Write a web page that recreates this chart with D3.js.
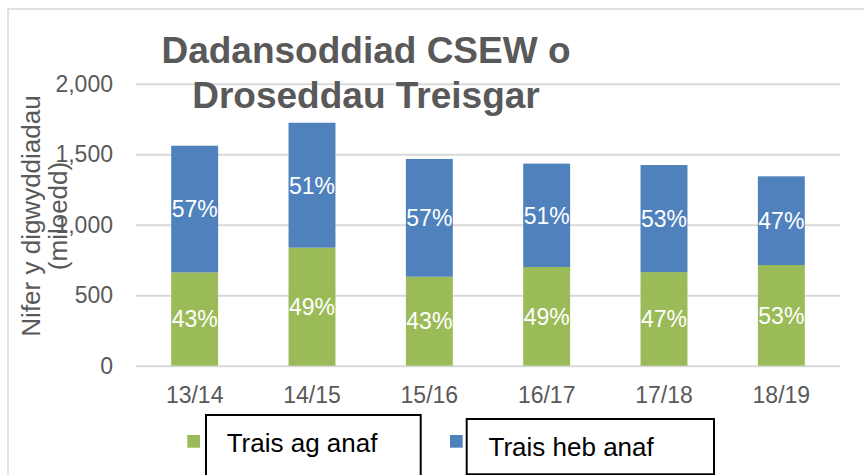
<!DOCTYPE html>
<html>
<head>
<meta charset="utf-8">
<script src="https://cdn.jsdelivr.net/npm/d3@7"></script>
<style>
  html, body { margin: 0; padding: 0; background: #fff; }
  svg { display: block; font-family: "Liberation Sans", Arial, sans-serif; }
</style>
</head>
<body>
<svg id="chart" width="864" height="475"></svg>
<script>
// ---- data ----
const categories = ["13/14", "14/15", "15/16", "16/17", "17/18", "18/19"];
const traisAgAnaf = [662, 837, 631, 700, 664, 714];      // green (bottom)
const traisHebAnaf = [898, 886, 835, 733, 759, 629];     // blue (top)
const agPct = ["43%", "49%", "43%", "49%", "47%", "53%"];
const hebPct = ["57%", "51%", "57%", "51%", "53%", "47%"];
const yTicks = [0, 500, 1000, 1500, 2000];
const seriesNames = ["Trais ag anaf", "Trais heb anaf"];
const titleLines = ["Dadansoddiad CSEW o", "Droseddau Treisgar"];
const axisTitleLines = ["Nifer y digwyddiadau", "(miloedd)"];

// ---- styles ----
const GREEN = "#9bbb59", BLUE = "#4f81bd", GRID = "#d9d9d9", TEXT = "#595959";

const svg = d3.select("#chart");
const plot = { left: 136, right: 840, top: 83.7, bottom: 365.7 };

// outer border
svg.append("rect").attr("x", 8).attr("y", 9).attr("width", 900).attr("height", 500)
  .attr("fill", "none").attr("stroke", GRID).attr("stroke-width", 1.5);

const x = d3.scaleBand().domain(categories).range([plot.left, plot.right])
  .paddingInner(0.6).paddingOuter(0.3);
const y = d3.scaleLinear().domain([0, 2000]).range([plot.bottom, plot.top]);

// gridlines
const grid = svg.append("g").attr("transform", `translate(${plot.left},0)`)
  .call(d3.axisLeft(y).tickValues(yTicks).tickSize(-(plot.right - plot.left)).tickFormat(""));
grid.select(".domain").remove();
grid.selectAll("line").attr("stroke", GRID).attr("stroke-width", 2);

// y axis labels
const yAxis = svg.append("g").attr("transform", `translate(${plot.left},0)`)
  .call(d3.axisLeft(y).tickValues(yTicks).tickSize(0).tickPadding(23).tickFormat(d3.format(",")));
yAxis.select(".domain").remove();
yAxis.selectAll("text").attr("fill", TEXT).style("font-size", "23px")
  .style("font-family", '"Liberation Sans", Arial, sans-serif');

// x axis labels
const xAxis = svg.append("g").attr("transform", `translate(0,${plot.bottom})`)
  .call(d3.axisBottom(x).tickSize(0).tickPadding(20.5));
xAxis.select(".domain").remove();
xAxis.selectAll("text").attr("fill", TEXT).style("font-size", "23px")
  .style("font-family", '"Liberation Sans", Arial, sans-serif');

// stacked bars
const rows = categories.map((c, i) => ({ cat: c, ag: traisAgAnaf[i], heb: traisHebAnaf[i] }));
const stack = d3.stack().keys(["ag", "heb"])(rows);
const colors = { ag: GREEN, heb: BLUE };
const pcts = { ag: agPct, heb: hebPct };

stack.forEach(layer => {
  const g = svg.append("g");
  g.selectAll("rect").data(layer).join("rect")
    .attr("x", d => x(d.data.cat))
    .attr("width", x.bandwidth())
    .attr("y", d => y(d[1]))
    .attr("height", d => y(d[0]) - y(d[1]))
    .attr("fill", colors[layer.key]);
  g.selectAll("text").data(layer).join("text")
    .attr("x", d => x(d.data.cat) + x.bandwidth() / 2)
    .attr("y", d => (y(d[0]) + y(d[1])) / 2)
    .attr("dy", "0.36em")
    .attr("text-anchor", "middle")
    .attr("fill", "#fff")
    .style("font-size", "23px")
    .text((d, i) => pcts[layer.key][i]);
});

// title
const title = svg.append("text").attr("text-anchor", "middle").attr("fill", TEXT)
  .style("font-size", "37px").style("font-weight", "bold");
title.selectAll("tspan").data(titleLines).join("tspan")
  .attr("x", 366).attr("y", (d, i) => i === 0 ? 63 : 107.5).text(d => d);

// axis title
axisTitleLines.forEach((t, i) => {
  svg.append("text")
    .attr("transform", `translate(${i === 0 ? 39.5 : 67},216) rotate(-90)`)
    .attr("text-anchor", "middle").attr("fill", TEXT)
    .style("font-size", "26px").text(t);
});

// legend
const legend = [
  { name: seriesNames[0], color: GREEN, sq: [187.3, 435], box: [206, 415, 214.7, 70], tx: [226.7, 451.7] },
  { name: seriesNames[1], color: BLUE, sq: [450, 435], box: [466.7, 419, 247.3, 55.3], tx: [488.5, 455.5] }
];
legend.forEach(l => {
  svg.append("rect").attr("x", l.sq[0]).attr("y", l.sq[1]).attr("width", 12.7).attr("height", 12.7)
    .attr("fill", l.color);
  svg.append("rect").attr("x", l.box[0]).attr("y", l.box[1]).attr("width", l.box[2]).attr("height", l.box[3])
    .attr("fill", "#fff").attr("stroke", "#000").attr("stroke-width", 2);
  svg.append("text").attr("x", l.tx[0]).attr("y", l.tx[1]).attr("fill", "#000")
    .style("font-size", "26px").text(l.name);
});
</script>
</body>
</html>
